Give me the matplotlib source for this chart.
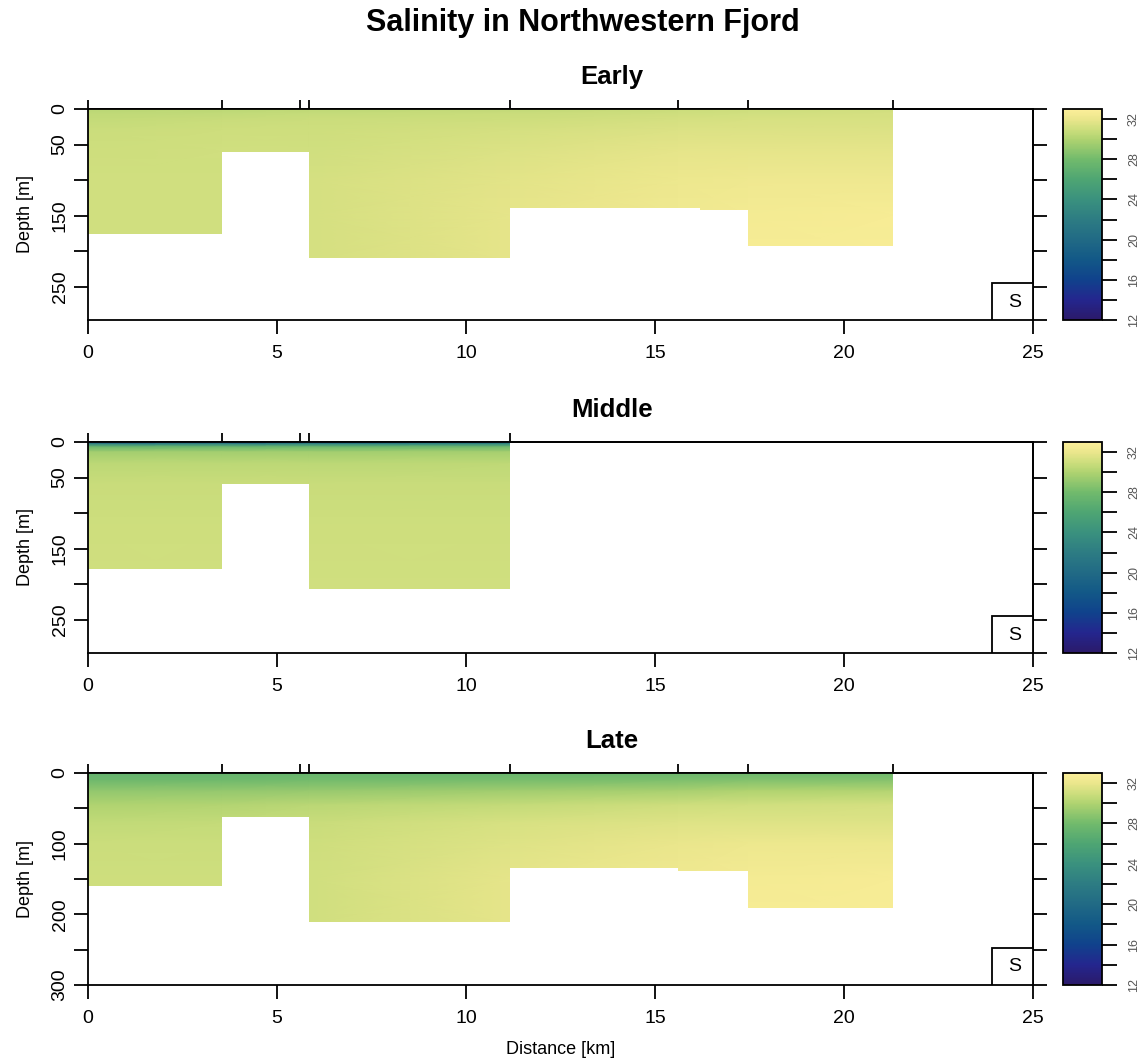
import numpy as np
import matplotlib.pyplot as plt
from matplotlib.colors import LinearSegmentedColormap
from matplotlib.patches import Polygon, Rectangle

plt.rcParams['font.family'] = ['Liberation Sans', 'DejaVu Sans']

# colour scale, close to cmocean "haline" (12 .. 33)
cmap_vals = [12, 14, 16, 18, 20, 22, 24, 26, 28, 30, 31, 32, 33]
cmap_rgb = [(43, 26, 106), (36, 38, 142), (16, 66, 140), (18, 88, 135),
            (33, 106, 133), (45, 124, 131), (58, 145, 126), (78, 165, 115),
            (113, 186, 108), (175, 211, 112), (205, 222, 125), (234, 230, 140),
            (253, 239, 154)]

# station positions along the section [km]
stations_full = [0, 3.55, 5.6, 5.85, 11.16, 15.6, 17.45, 21.3]
stations_mid = [0, 3.55, 5.6, 5.85, 11.16]

# ---- Early
early_x = [0, 3.55, 5.85, 11.16, 15.6, 17.45, 21.3]
early_z = [0, 5, 15, 30, 60, 100, 150, 215]
early_s = [
    [30.3, 30.4, 30.5, 30.6, 30.9, 31.0, 31.1],
    [30.5, 30.6, 30.7, 30.8, 31.0, 31.1, 31.2],
    [30.7, 30.8, 30.9, 31.0, 31.2, 31.3, 31.3],
    [30.9, 30.95, 31.0, 31.2, 31.5, 31.5, 31.5],
    [31.0, 31.05, 31.1, 31.5, 31.8, 31.8, 31.8],
    [31.1, 31.1, 31.2, 31.7, 32.1, 32.2, 32.2],
    [31.1, 31.1, 31.2, 31.8, 32.3, 32.5, 32.6],
    [31.1, 31.1, 31.2, 31.8, 32.3, 32.6, 32.7],
]
early_edges = [0, 3.55, 5.85, 11.16, 16.2, 17.45, 21.3]
early_bottom = [176, 61, 210, 140, 142, 193]

# ---- Middle
middle_x = [0, 3.55, 5.85, 11.16]
middle_z = [0, 3, 7, 14, 30, 60, 120, 215]
middle_s = [
    [15.5, 15.5, 16.0, 16.5],
    [23.0, 23.0, 23.3, 23.6],
    [27.6, 27.6, 27.7, 27.8],
    [29.6, 29.6, 29.6, 29.7],
    [30.4, 30.4, 30.4, 30.5],
    [30.8, 30.8, 30.8, 30.8],
    [31.0, 31.0, 31.0, 31.0],
    [31.1, 31.1, 31.1, 31.1],
]
middle_edges = [0, 3.55, 5.85, 11.16]
middle_bottom = [179, 59, 207]

# ---- Late
late_x = [0, 3.55, 5.85, 11.16, 15.6, 17.45, 21.3]
late_z = [0, 10, 25, 45, 70, 100, 150, 215]
late_s = [
    [27.2, 27.3, 27.4, 27.5, 27.6, 27.7, 27.8],
    [27.8, 27.9, 28.0, 28.2, 28.4, 28.5, 28.6],
    [29.0, 29.1, 29.2, 29.5, 29.8, 30.0, 30.1],
    [30.0, 30.1, 30.3, 30.7, 31.0, 31.1, 31.2],
    [30.6, 30.7, 30.8, 31.3, 31.6, 31.6, 31.6],
    [30.9, 30.9, 31.0, 31.6, 32.0, 32.1, 32.1],
    [31.0, 31.0, 31.1, 31.8, 32.3, 32.5, 32.6],
    [31.0, 31.0, 31.1, 31.8, 32.3, 32.6, 32.7],
]
late_edges = [0, 3.55, 5.85, 11.16, 15.6, 17.45, 21.3]
late_bottom = [160, 62, 211, 135, 138, 191]

vmin, vmax = 12, 33
pos = [(v - vmin) / (vmax - vmin) for v in cmap_vals]
cmap = LinearSegmentedColormap.from_list(
    'haline', list(zip(pos, [tuple(c / 255 for c in rgb) for rgb in cmap_rgb])))

LW = 1.3


def panel(ax, cax, title, x, z, s, edges, bottom, stations, ymax,
          lticks, llabels, rticks, xlabel=False):
    X, Z = np.meshgrid(x, z)
    mesh = ax.pcolormesh(X, Z, np.array(s), shading='gouraud', cmap=cmap,
                         vmin=vmin, vmax=vmax)
    # clip the field to the water column above the bottom
    verts = [(edges[0], 0), (edges[-1], 0)]
    for i in range(len(bottom) - 1, -1, -1):
        verts.append((edges[i + 1], bottom[i]))
        verts.append((edges[i], bottom[i]))
    clip = Polygon(verts, closed=True, facecolor='none', edgecolor='none')
    ax.add_patch(clip)
    mesh.set_clip_path(clip)

    ax.set_xlim(0, 25)
    ax.set_ylim(ymax, 0)
    ax.set_xticks(range(0, 26, 5))
    ax.set_yticks(lticks)
    ax.set_yticklabels(llabels, rotation=90, va='center')
    ax.tick_params(direction='out', length=10, width=LW, labelsize=14)
    ax.tick_params(axis='x', pad=8)
    ax.tick_params(axis='y', pad=4)
    for sp in ax.spines.values():
        sp.set_linewidth(LW)

    top = ax.secondary_xaxis('top')
    top.set_xticks(stations)
    top.set_xticklabels([])
    top.tick_params(direction='out', length=6.5, width=LW)
    top.spines['top'].set_linewidth(LW)

    right = ax.secondary_yaxis('right')
    right.set_yticks(rticks)
    right.set_yticklabels([])
    right.tick_params(direction='out', length=10, width=LW)
    right.spines['right'].set_linewidth(LW)

    ax.set_ylabel('Depth [m]', fontsize=13, labelpad=13)
    if xlabel:
        ax.set_xlabel('Distance [km]', fontsize=13, labelpad=10)
    ax.set_title(title, fontsize=18.5, fontweight='bold', pad=18, x=0.5545)

    ax.add_patch(Rectangle((0.9563, 0), 0.0437, 0.175, transform=ax.transAxes,
                           facecolor='white', edgecolor='black', lw=LW, zorder=5))
    ax.text(0.981, 0.085, 'S', transform=ax.transAxes, ha='center', va='center',
            fontsize=14, zorder=6)

    cb = plt.colorbar(mesh, cax=cax)
    cb.outline.set_linewidth(LW)
    cb.set_ticks(np.arange(12, 33, 2))
    cb.set_ticklabels([str(v) if v % 4 == 0 else '' for v in range(12, 33, 2)])
    cax.tick_params(length=11, width=LW, labelsize=9, labelcolor='#555555', pad=8)
    for lab in cax.get_yticklabels():
        lab.set_rotation(90)
        lab.set_va('center')


fig = plt.figure(figsize=(11.45, 10.6), dpi=100)
W, H = 1145, 1060
rows = [(109, 320), (442, 653), (773, 985)]
axes = []
caxes = []
for top_px, bot_px in rows:
    axes.append(fig.add_axes([88 / W, 1 - bot_px / H, 945 / W, (bot_px - top_px) / H]))
    caxes.append(fig.add_axes([1063 / W, 1 - bot_px / H, 38.5 / W, (bot_px - top_px) / H]))

ticks_a = [0, 50, 100, 150, 200, 250]
labels_a = ['0', '50', '', '150', '', '250']
panel(axes[0], caxes[0], 'Early', early_x, early_z, early_s, early_edges, early_bottom,
      stations_full, 297, ticks_a, labels_a, ticks_a + [297])
panel(axes[1], caxes[1], 'Middle', middle_x, middle_z, middle_s, middle_edges, middle_bottom,
      stations_mid, 297, ticks_a, labels_a, ticks_a + [297])
ticks_c = [0, 50, 100, 150, 200, 250, 300]
labels_c = ['0', '', '100', '', '200', '', '300']
panel(axes[2], caxes[2], 'Late', late_x, late_z, late_s, late_edges, late_bottom,
      stations_full, 300, ticks_c, labels_c, ticks_c, xlabel=True)

fig.text(583 / W, 1 - 23 / H, 'Salinity in Northwestern Fjord', ha='center', va='center',
         fontsize=22, fontweight='bold')

fig.savefig('out.png', dpi=100)
